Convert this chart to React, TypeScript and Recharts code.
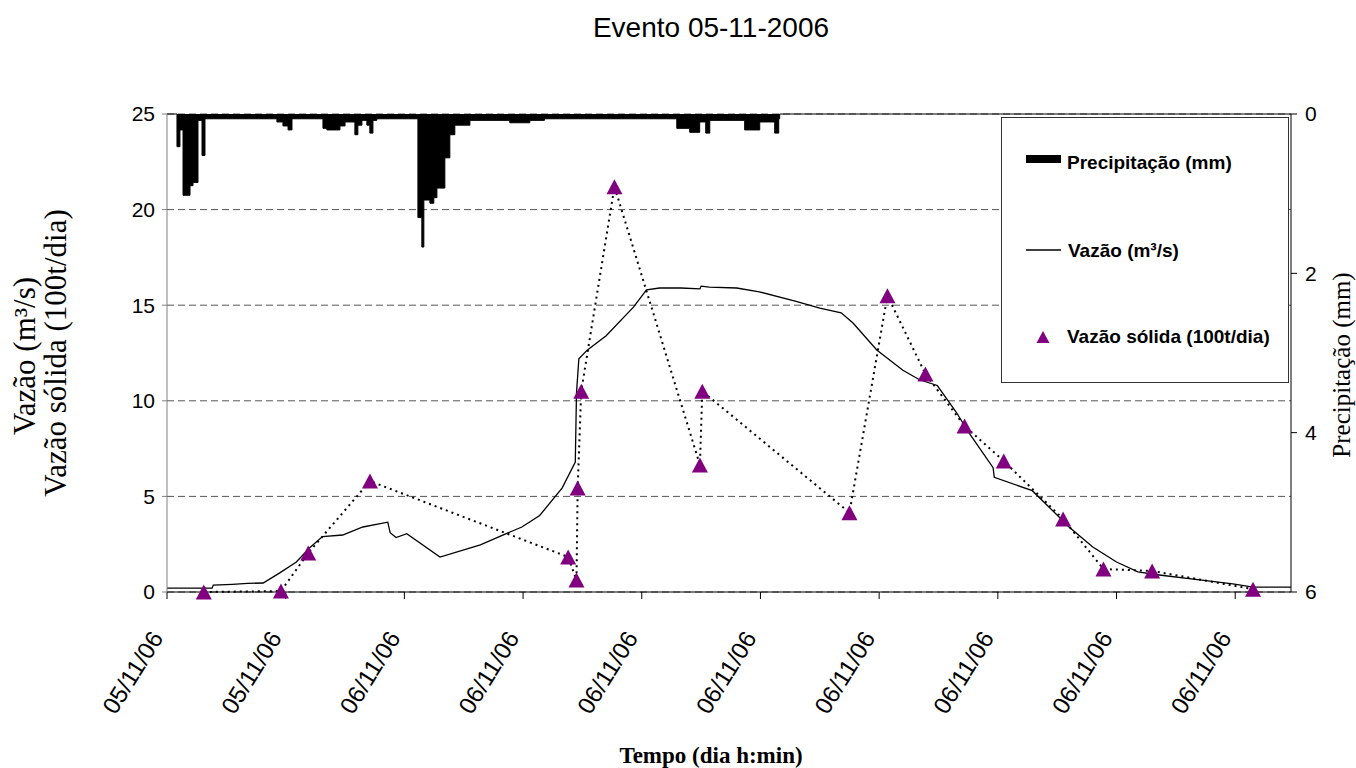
import React from "react";
import {
  ComposedChart,
  Area,
  Line,
  XAxis,
  YAxis,
  CartesianGrid,
} from "recharts";

// time axis: one unit per tick (dates as printed under the axis)
const tickLabels = [
  "05/11/06",
  "05/11/06",
  "06/11/06",
  "06/11/06",
  "06/11/06",
  "06/11/06",
  "06/11/06",
  "06/11/06",
  "06/11/06",
  "06/11/06",
];
const timeTicks = [0, 1, 2, 3, 4, 5, 6, 7, 8, 9];

// Vazão (m³/s)
const flowT = [
  0, 0.38, 0.39, 0.55, 0.68, 0.81, 0.95, 1.09, 1.2, 1.31, 1.48, 1.65, 1.86,
  1.88, 1.93, 2.02, 2.3, 2.64, 2.8, 2.99, 3.14, 3.33, 3.44, 3.45, 3.47, 3.54,
  3.7, 3.93, 4.04, 4.15, 4.33, 4.49, 4.5, 4.57, 4.8, 4.99, 5.3, 5.5, 5.68,
  5.78, 5.98, 6.2, 6.34, 6.49, 6.65, 6.76, 6.96, 6.97, 7.29, 7.52, 7.58, 7.8,
  8.0, 8.18, 8.36, 8.7, 8.98, 9.15, 9.47,
];
const flowQ = [
  0.2, 0.2, 0.36, 0.4, 0.45, 0.47, 1.0, 1.57, 2.3, 2.9, 2.98, 3.4, 3.65, 3.1,
  2.85, 3.05, 1.83, 2.46, 2.9, 3.4, 4.0, 5.45, 6.8, 10.4, 12.2, 12.65, 13.4,
  14.9, 15.8, 15.9, 15.9, 15.85, 16.0, 15.95, 15.9, 15.7, 15.2, 14.85, 14.6,
  14.07, 12.66, 11.6, 11.1, 10.8, 9.4, 8.3, 6.5, 6.0, 5.3, 3.9, 3.5, 2.35,
  1.57, 1.05, 0.89, 0.63, 0.42, 0.26, 0.26,
];

// Vazão sólida (100t/dia)
const sedT = [
  0.31, 0.96, 1.19, 1.71, 3.38, 3.45, 3.46, 3.49, 3.77, 4.49, 4.51, 5.75,
  6.07, 6.39, 6.72, 7.05, 7.55, 7.89, 8.3, 9.15,
];
const sedQ = [
  0, 0.05, 2.04, 5.8, 1.83, 0.63, 5.44, 10.5, 21.2, 6.64, 10.5, 4.15, 15.5,
  11.4, 8.68, 6.85, 3.82, 1.2, 1.1, 0.15,
];

// Precipitação (mm), step values starting at each time
const rainT = [
  0, 0.084, 0.109, 0.135, 0.194, 0.219, 0.261, 0.295, 0.32, 0.926, 0.977,
  1.02, 1.053, 1.314, 1.347, 1.457, 1.5, 1.583, 1.608, 1.642, 1.684, 1.709,
  1.735, 1.768, 2.114, 2.147, 2.164, 2.215, 2.248, 2.274, 2.341, 2.383, 2.425,
  2.552, 2.888, 3.057, 3.18, 4.295, 4.404, 4.488, 4.539, 4.573, 4.867, 4.994,
  5.12, 5.154, 5.162, 9.47,
];
const rainMm = [
  0, 0.41, 0.2, 1.02, 0.9, 0.86, 0.08, 0.52, 0.06, 0.1, 0.15, 0.2, 0.06, 0.18,
  0.2, 0.15, 0.1, 0.26, 0.14, 0.08, 0.14, 0.24, 0.08, 0.06, 1.3, 1.67, 1.08,
  1.12, 1.05, 0.93, 0.55, 0.26, 0.14, 0.08, 0.11, 0.08, 0.06, 0.18, 0.23,
  0.1, 0.24, 0.08, 0.2, 0.1, 0.24, 0.06, 0, 0,
];

const flowData = flowT.map((t, i) => ({ t, q: flowQ[i] }));
const sedData = sedT.map((t, i) => ({ t, s: sedQ[i] }));
const rainData = rainT.map((t, i) => ({ t, mm: rainMm[i] }));

const SANS = "'Liberation Sans', Arial, sans-serif";
const SERIF = "'Liberation Serif', 'Times New Roman', serif";
const PURPLE = "#800080";

const triangle = (cx: number, cy: number, w: number, h: number) =>
  `${cx},${cy - h / 2} ${cx + w / 2},${cy + h / 2} ${cx - w / 2},${cy + h / 2}`;

const SedDot = (props: any) => {
  const { cx, cy, index } = props;
  if (cx == null || cy == null) return <g key={index} />;
  return <polygon key={index} points={triangle(cx, cy, 16, 15)} fill={PURPLE} />;
};

const TimeTick = (props: any) => {
  const { x, payload } = props;
  const ax = x - 3;
  const ay = 638;
  return (
    <text
      x={ax}
      y={ay}
      transform={`rotate(-58 ${ax} ${ay})`}
      textAnchor="end"
      fontSize={24}
      fontFamily={SANS}
      fill="#000"
    >
      {tickLabels[payload.value]}
    </text>
  );
};

const Legend = () => (
  <div
    style={{
      position: "absolute",
      left: 1001,
      top: 117,
      width: 286,
      height: 264,
      border: "1px solid #333",
      background: "#fff",
    }}
  >
    <svg width={286} height={264} style={{ display: "block" }}>
      <rect x={24} y={37} width={35} height={8} fill="#000" />
      <text x={65} y={51} fontSize={19} fontWeight="bold" fontFamily={SANS}>
        Precipitação (mm)
      </text>
      <line x1={24} x2={59} y1={132} y2={132} stroke="#000" strokeWidth={1.3} />
      <text x={66} y={139} fontSize={19} fontWeight="bold" fontFamily={SANS}>
        Vazão (m³/s)
      </text>
      <polygon points={triangle(41, 219, 13, 12)} fill={PURPLE} />
      <text x={65} y={225} fontSize={19} fontWeight="bold" fontFamily={SANS}>
        Vazão sólida (100t/dia)
      </text>
    </svg>
  </div>
);

export default function App() {
  return (
    <div
      style={{
        position: "absolute",
        left: 0,
        top: 0,
        width: 1356,
        height: 768,
        background: "#fff",
      }}
    >
      <ComposedChart
        width={1356}
        height={768}
        margin={{ top: 114, right: 25, bottom: 56, left: 107 }}
      >
        <CartesianGrid
          yAxisId="q"
          vertical={false}
          stroke="#555"
          strokeDasharray="7 4"
        />
        <XAxis
          dataKey="t"
          type="number"
          domain={[0, 9.47]}
          ticks={timeTicks}
          allowDataOverflow
          height={120}
          tickSize={7}
          tick={<TimeTick />}
          axisLine={{ stroke: "#000" }}
          tickLine={{ stroke: "#000" }}
        />
        <YAxis
          yAxisId="q"
          domain={[0, 25]}
          ticks={[0, 5, 10, 15, 20, 25]}
          width={60}
          tickSize={5}
          tickMargin={7}
          axisLine={{ stroke: "#808080" }}
          tickLine={{ stroke: "#808080" }}
          tick={{ fontSize: 21, fontFamily: SANS, fill: "#000" }}
        />
        <YAxis
          yAxisId="p"
          orientation="right"
          reversed
          domain={[0, 6]}
          ticks={[0, 2, 4, 6]}
          width={40}
          tickSize={6}
          tickMargin={8}
          axisLine={{ stroke: "#000" }}
          tickLine={{ stroke: "#000" }}
          tick={{ fontSize: 21, fontFamily: SANS, fill: "#000" }}
        />
        <Area
          yAxisId="p"
          data={rainData}
          dataKey="mm"
          type="stepAfter"
          baseValue={0}
          stroke="#000"
          strokeWidth={1}
          fill="#000"
          fillOpacity={1}
          isAnimationActive={false}
        />
        <Line
          yAxisId="q"
          data={flowData}
          dataKey="q"
          type="linear"
          stroke="#000"
          strokeWidth={1.3}
          dot={false}
          isAnimationActive={false}
        />
        <Line
          yAxisId="q"
          data={sedData}
          dataKey="s"
          type="linear"
          stroke="#000"
          strokeWidth={2}
          strokeDasharray="2 4"
          dot={SedDot}
          activeDot={false}
          isAnimationActive={false}
        />
      </ComposedChart>
      <svg
        width={1356}
        height={768}
        style={{ position: "absolute", left: 0, top: 0, pointerEvents: "none" }}
      >
        <text x={711} y={37} textAnchor="middle" fontSize={28} fontFamily={SANS}>
          Evento 05-11-2006
        </text>
        <text
          x={35}
          y={356}
          transform="rotate(-90 35 356)"
          textAnchor="middle"
          fontSize={31}
          fontFamily={SERIF}
        >
          Vazão (m³/s)
        </text>
        <text
          x={66}
          y={353}
          transform="rotate(-90 66 353)"
          textAnchor="middle"
          fontSize={31}
          fontFamily={SERIF}
        >
          Vazão sólida (100t/dia)
        </text>
        <text
          x={1350}
          y={365}
          transform="rotate(-90 1350 365)"
          textAnchor="middle"
          fontSize={25}
          fontFamily={SERIF}
        >
          Precipitação (mm)
        </text>
        <text
          x={711}
          y={763}
          textAnchor="middle"
          fontSize={23}
          fontWeight="bold"
          fontFamily={SERIF}
        >
          Tempo (dia h:min)
        </text>
      </svg>
      <Legend />
    </div>
  );
}
